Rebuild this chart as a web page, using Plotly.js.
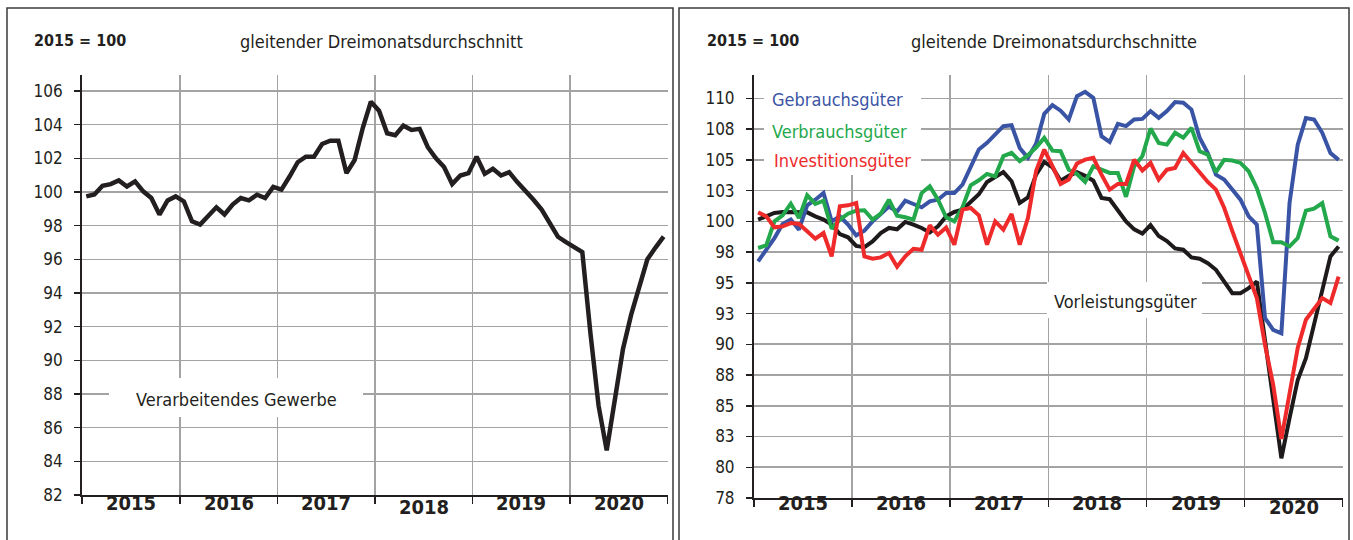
<!DOCTYPE html>
<html>
<head>
<meta charset="utf-8">
<script src="https://cdn.plot.ly/plotly-3.0.1.min.js"></script>
<style>html,body{margin:0;padding:0;background:#fff;}#chart{width:1353px;height:540px;}</style>
</head>
<body>
<div id="chart"></div>
<script>
// ---- data (3-month moving averages, 2015 = 100), monthly Jan 2015 - Dec 2020 ----
const years = ['2015', '2016', '2017', '2018', '2019', '2020'];

const verarbeitendesGewerbe = [
  99.74, 99.85, 100.37, 100.47, 100.69, 100.33, 100.63, 100.04, 99.64, 98.66, 99.5, 99.74,
  99.44, 98.26, 98.07, 98.6, 99.09, 98.66, 99.25, 99.64, 99.5, 99.84, 99.64, 100.3,
  100.14, 100.92, 101.77, 102.1, 102.1, 102.85, 103.05, 103.05, 101.12, 101.9, 103.8, 105.36,
  104.83, 103.49, 103.37, 103.94, 103.69, 103.75, 102.66, 102.0, 101.48, 100.47, 100.98, 101.12,
  102.1, 101.08, 101.38, 100.98, 101.18, 100.59, 100.1, 99.54, 98.95, 98.2, 97.34, 97.02,
  96.75, 96.43, 91.6, 87.3, 84.65, 87.5, 90.67, 92.7, 94.4, 96.0, 96.7, 97.35
];

const gebrauchsgueter = [
  96.74, 97.7, 98.64, 99.78, 100.14, 99.32, 101.3, 101.76, 102.3, 100.0, 100.41, 99.73,
  98.86, 99.24, 100.0, 100.6, 101.2, 100.8, 101.68, 101.41, 101.14, 101.63, 101.76, 102.3,
  102.3, 102.99, 104.34, 105.84, 106.38, 107.06, 107.74, 107.82, 105.97, 105.16, 106.3, 108.74,
  109.45, 109.0, 108.28, 110.18, 110.53, 110.04, 106.92, 106.46, 107.93, 107.74, 108.28, 108.33,
  108.96, 108.41, 108.96, 109.7, 109.64, 109.09, 106.8, 105.56, 103.8, 103.4, 102.58, 101.76,
  100.41, 99.73, 92.13, 91.18, 90.9, 101.5, 106.24, 108.4, 108.28, 107.2, 105.56, 105.0
];

const verbrauchsgueter = [
  97.83, 98.05, 100.0, 100.49, 101.44, 100.27, 102.12, 101.41, 101.68, 99.4, 100.14, 100.62,
  100.87, 100.9, 100.14, 100.62, 101.76, 100.45, 100.33, 100.14, 102.3, 102.85, 101.76, 100.33,
  100.0, 101.14, 102.93, 103.34, 103.85, 103.66, 105.3, 105.56, 104.89, 105.37, 106.0, 106.79,
  105.75, 105.7, 104.2, 103.85, 103.2, 104.48, 104.21, 103.94, 103.94, 102.0, 104.48, 105.3,
  107.55, 106.38, 106.24, 107.2, 106.8, 107.6, 105.7, 105.43, 104.0, 105.0, 104.94, 104.75,
  104.07, 102.7, 100.68, 98.3, 98.3, 97.96, 98.64, 100.87, 101.03, 101.49, 98.78, 98.43
];

const investitionsgueter = [
  100.73, 100.4, 99.51, 99.59, 99.86, 99.78, 99.19, 98.59, 99.05, 97.15, 101.22, 101.3,
  101.49, 97.15, 96.96, 97.07, 97.42, 96.3, 97.15, 97.77, 97.69, 99.67, 98.91, 99.5,
  98.1, 100.95, 101.09, 100.49, 98.1, 100.0, 99.32, 100.6, 98.1, 100.27, 104.1, 105.84,
  104.5, 103.04, 103.4, 104.7, 105.02, 105.16, 103.8, 102.58, 103.04, 103.04, 105.02, 104.13,
  104.75, 103.4, 104.2, 104.34, 105.56, 104.75, 104.0, 103.2, 102.58, 101.1, 99.2, 97.4,
  95.66, 93.76, 89.96, 86.7, 82.3, 85.9, 89.7, 92.0, 92.95, 93.76, 93.36, 95.5
];

const vorleistungsgueter = [
  100.14, 100.4, 100.68, 100.76, 100.76, 100.68, 100.73, 100.4, 100.14, 99.73, 98.97, 98.7,
  98.0, 97.9, 98.37, 99.05, 99.46, 99.35, 99.95, 99.73, 99.46, 99.1, 99.6, 100.4,
  100.76, 100.95, 101.57, 102.2, 103.2, 103.6, 104.0, 103.26, 101.5, 101.95, 103.8, 104.83,
  104.4, 103.3, 103.7, 104.0, 103.7, 103.3, 101.9, 101.8, 100.95, 100.0, 99.35, 99.0,
  99.7, 98.8, 98.4, 97.8, 97.69, 97.07, 96.96, 96.6, 96.06, 95.11, 94.16, 94.16,
  94.57, 95.11, 90.5, 85.9, 80.73, 84.0, 87.1, 88.87, 91.6, 94.3, 97.15, 97.96
];

const leftTickVals = [82, 84, 86, 88, 90, 92, 94, 96, 98, 100, 102, 104, 106];
const rightTickVals = [77.5, 80, 82.5, 85, 87.5, 90, 92.5, 95, 97.5, 100, 102.5, 105, 107.5, 110];
const rightTickText = ['78', '80', '83', '85', '88', '90', '93', '95', '98', '100', '103', '105', '108', '110'];

// ---- figure ----
const W = 1353, H = 540;
const FONT = "'DejaVu Sans Condensed', 'DejaVu Sans', sans-serif";
const NARROW = "'Liberation Sans Narrow', 'DejaVu Sans Condensed', sans-serif";
const INK = '#231f20';
const GRID = '#a3a3a3';
const px = v => v / W;
const py = v => 1 - v / H;

const monthPos = arr => arr.map((_, i) => i + 0.5);   // month centres on a 12-per-year scale
const yearBounds = years.map((_, i) => i * 12).concat([years.length * 12]);

function line(y, color, width, xa, ya) {
  return { x: monthPos(y), y: y, type: 'scatter', mode: 'lines', xaxis: xa, yaxis: ya,
           line: { color: color, width: width, shape: 'linear' }, hoverinfo: 'skip' };
}

const traces = [
  line(verarbeitendesGewerbe, INK, 4.5, 'x', 'y'),
  line(vorleistungsgueter, '#1e1a1b', 4, 'x2', 'y2'),
  line(gebrauchsgueter, '#3a54a5', 4, 'x2', 'y2'),
  line(verbrauchsgueter, '#23a84c', 4, 'x2', 'y2'),
  line(investitionsgueter, '#ee2a2b', 4, 'x2', 'y2')
];

const xCommon = {
  range: [0, 72], tickvals: yearBounds, showticklabels: false,
  ticks: 'outside', ticklen: 7, tickwidth: 1.5, tickcolor: INK,
  showgrid: true, gridcolor: GRID, gridwidth: 1.6,
  showline: true, linecolor: INK, linewidth: 2, zeroline: false, fixedrange: true
};
const yCommon = {
  ticks: 'outside', ticklen: 6, tickwidth: 1.5, tickcolor: INK,
  showgrid: true, gridcolor: GRID, gridwidth: 1.6,
  showline: true, linecolor: INK, linewidth: 2, zeroline: false, fixedrange: true,
  tickfont: { family: NARROW, size: 17, color: INK }, ticklabelstandoff: 8
};

const annotations = [];
function txt(text, x, y, size, opts) {
  annotations.push(Object.assign({
    text: text, x: x, y: y, xref: 'paper', yref: 'paper', showarrow: false,
    xanchor: 'center', yanchor: 'middle',
    font: { family: FONT, size: size, color: INK }
  }, opts || {}));
}
// headers
txt('<b>2015 = 100</b>', px(32), py(40), 16, { xanchor: 'left' });
txt('gleitender Dreimonatsdurchschnitt', px(381), py(41), 18);
txt('<b>2015 = 100</b>', px(705), py(40), 16, { xanchor: 'left' });
txt('gleitende Dreimonatsdurchschnitte', px(1054), py(41), 18);
// year labels
years.forEach((yr, i) => {
  const lowL = (yr === '2018') ? 4 : 0;
  const lowR = (yr === '2020') ? 4 : 0;
  annotations.push({ text: '<b>' + yr + '</b>', x: i * 12 + 6, xref: 'x', y: py(517 + lowL), yref: 'paper',
    showarrow: false, font: { family: NARROW, size: 20, color: INK } });
  annotations.push({ text: '<b>' + yr + '</b>', x: i * 12 + 6, xref: 'x2', y: py(517 + lowR), yref: 'paper',
    showarrow: false, font: { family: NARROW, size: 20, color: INK } });
});
// series labels
txt('Verarbeitendes Gewerbe', px(236), py(399), 18);
txt('Gebrauchsgüter', px(770), py(100), 18, { xanchor: 'left', font: { family: FONT, size: 18, color: '#3a54a5' } });
txt('Verbrauchsgüter', px(770), py(131), 18, { xanchor: 'left', font: { family: FONT, size: 18, color: '#23a84c' } });
txt('Investitionsgüter', px(772), py(160), 18, { xanchor: 'left', font: { family: FONT, size: 18, color: '#ee2a2b' } });
txt('Vorleistungsgüter', px(1052), py(301), 18, { xanchor: 'left' });

const whiteBox = (x0, y0, x1, y1) => ({ type: 'rect', xref: 'paper', yref: 'paper', layer: 'above',
  x0: px(x0), x1: px(x1), y0: py(y1), y1: py(y0), fillcolor: '#ffffff', line: { width: 0 } });
const frame = (x0, x1) => ({ type: 'rect', xref: 'paper', yref: 'paper', layer: 'above',
  x0: px(x0), x1: px(x1), y0: -0.02, y1: py(8), fillcolor: 'rgba(0,0,0,0)', line: { color: '#3a3a3a', width: 1.5 } });

const layout = {
  width: W, height: H, margin: { l: 0, r: 0, t: 0, b: 0 },
  paper_bgcolor: '#ffffff', plot_bgcolor: '#ffffff', showlegend: false,
  font: { family: FONT, color: INK },
  xaxis: Object.assign({}, xCommon, { domain: [px(82.2), px(667.7)], anchor: 'y' }),
  yaxis: Object.assign({}, yCommon, { domain: [45 / H, 465 / H], range: [82, 106.95], tickvals: leftTickVals, anchor: 'x' }),
  xaxis2: Object.assign({}, xCommon, { domain: [px(754), px(1342.7)], anchor: 'y2' }),
  yaxis2: Object.assign({}, yCommon, { domain: [42 / H, 465 / H], range: [77.5, 111.9], tickvals: rightTickVals, ticktext: rightTickText, anchor: 'x2' }),
  shapes: [
    whiteBox(109, 378, 363, 417),
    whiteBox(764, 70, 921, 175),
    whiteBox(1047, 282, 1202, 318),
    frame(7, 673),
    frame(679, 1349)
  ],
  annotations: annotations
};

Plotly.newPlot('chart', traces, layout, { staticPlot: true, displayModeBar: false });
</script>
</body>
</html>
